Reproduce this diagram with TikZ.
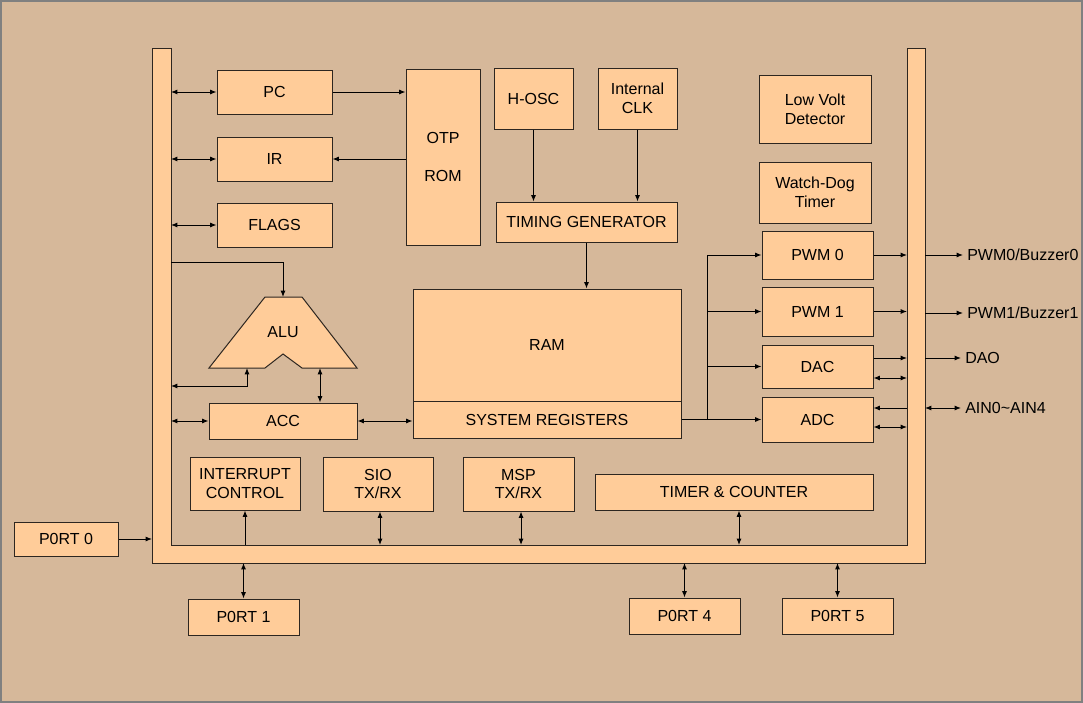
\documentclass[tikz,border=0pt]{standalone}
\usepackage{fontspec}
\setmainfont{Liberation Sans}
\usetikzlibrary{arrows.meta}
\definecolor{chipbg}{RGB}{214,184,154}
\definecolor{blockfill}{RGB}{255,204,153}
\definecolor{blockline}{RGB}{45,38,32}
\tikzset{
  shp/.style={draw=blockline, fill=blockfill, line width=0.75pt},
  blk/.style={shp, inner sep=0pt, align=center, font=\fontsize{12}{14}\selectfont},
  sz/.style 2 args={minimum width=#1*0.75pt, minimum height=#2*0.75pt},
  lbl/.style={inner sep=3pt, anchor=west, font=\fontsize{12}{14}\selectfont},
}
\begin{document}
\begin{tikzpicture}[x=0.75pt, y=-0.75pt, >={Latex[length=4.8pt,width=3.8pt]}]
        \useasboundingbox (0,0) rectangle (1083,703);
        \draw[fill=chipbg, draw=gray, line width=1.5pt] (1,1) rectangle (1082,702);

        % bus
        \draw[shp] (152,48) -- (152,563) -- (925,563) -- (925,48) -- (907,48) -- (907,545) -- (171,545) -- (171,48) -- cycle;
        \coordinate (busL) at (171,48);
        \coordinate (busLo) at (152,48);
        \coordinate (busR) at (907,48);
        \coordinate (busRo) at (925,48);
        \coordinate (busB) at (171,545);
        \coordinate (busBo) at (171,563);

        \node[blk, sz={115}{44}] (pc) at (274.5,92) {PC};
        \node[blk, sz={115}{44}] (ir) at (274.5,159) {IR};
        \node[blk, sz={115}{44}] (flags) at (274.5,225) {FLAGS};
        \node[blk, sz={74}{176}] (rom) at (443,157) {OTP\\[14pt]ROM};
        \node[blk, sz={79}{61}] (hosc) at (533.5,98.5) {H-OSC};
        \node[blk, sz={79}{61}] (iclk) at (637.5,98.5) {Internal\\CLK};
        \node[blk, sz={181}{40}] (tgen) at (586.5,222) {TIMING GENERATOR};
        \node[blk, sz={112}{68}] (lvd) at (815,109) {Low Volt\\Detector};
        \node[blk, sz={112}{61}] (wdt) at (815,192.5) {Watch-Dog\\Timer};
        \node[blk, sz={111}{48}] (pwm0) at (817.5,255) {PWM 0};
        \node[blk, sz={111}{49}] (pwm1) at (817.5,311.5) {PWM 1};
        \node[blk, sz={111}{43}] (dac) at (817.5,366.5) {DAC};
        \node[blk, sz={111}{45}] (adc) at (817.5,419.5) {ADC};
        \node[blk, sz={268}{112}] (ram) at (547,345) {RAM};
        \node[blk, sz={268}{37}] (sreg) at (547,419.5) {SYSTEM REGISTERS};
        \node[blk, sz={148}{36}] (acc) at (283,421) {ACC};

        % ALU
        \draw[shp] (265,297) -- (302,297) -- (357,368) -- (302,368) -- (283,354) -- (265,368) -- (209,368) -- cycle;
        \node[font=\fontsize{12}{14}\selectfont] (alu) at (283,332) {ALU};
        \coordinate (aluT) at (283,297);
        \coordinate (aluL) at (247,368);
        \coordinate (aluR) at (320,368);

        \node[blk, sz={110}{53}] (intr) at (245,483.5) {INTERRUPT\\CONTROL};
        \node[blk, sz={110}{54}] (sio) at (378,484) {SIO\\TX/RX};
        \node[blk, sz={111}{54}] (msp) at (518.5,484) {MSP\\TX/RX};
        \node[blk, sz={278}{36}] (tmr) at (734,492) {TIMER \& COUNTER};

        \node[blk, sz={104}{34}] (port0) at (66,539) {P0RT 0};
        \node[blk, sz={111}{36}] (port1) at (243.5,617) {P0RT 1};
        \node[blk, sz={111}{36}] (port4) at (684.5,616) {P0RT 4};
        \node[blk, sz={111}{36}] (port5) at (837.5,616) {P0RT 5};

        \node[lbl] (pwm0out) at (963,255) {PWM0/Buzzer0};
        \node[lbl] (pwm1out) at (963,313) {PWM1/Buzzer1};
        \node[lbl] (dao) at (961,358) {DAO};
        \node[lbl] (ain) at (961,408) {AIN0\char`~AIN4};

        \begin{scope}[line width=0.75pt]
            \draw[<->] (busL |- pc) -- (pc);
            \draw[<->] (busL |- ir) -- (ir);
            \draw[<->] (busL |- flags) -- (flags);
            \draw[->] (pc) -- (rom.west |- pc);
            \draw[->] (rom.west |- ir) -- (ir);
            \draw[->] (busL |- 0,262) -| (aluT);
            \draw[<->] (busL |- 0,386) -| (aluL);
            \draw[<->] (aluR) -- (aluR |- acc.north);
            \draw[<->] (busL |- acc) -- (acc);
            \draw[<->] (acc.east) -- (acc.east -| sreg.west);

            \draw[->] (hosc) -- (hosc |- tgen.north);
            \draw[->] (iclk) -- (iclk |- tgen.north);
            \draw[->] (tgen) -- (tgen |- ram.north);

            \coordinate (br) at (707,419.5);
            \draw[->] (sreg.east) -- (adc.west);
            \draw (br) -- (br |- pwm0);
            \draw[->] (br |- pwm0) -- (pwm0);
            \draw[->] (br |- pwm1) -- (pwm1);
            \draw[->] (br |- dac) -- (dac);

            \draw[->] (pwm0) -- (busR |- pwm0);
            \draw[->] (pwm1) -- (busR |- pwm1);
            \draw[->] (dac.east |- 0,358) -- (busR |- 0,358);
            \draw[<->] (dac.east |- 0,378) -- (busR |- 0,378);
            \draw[->] (busR |- 0,408) -- (adc.east |- 0,408);
            \draw[<->] (busR |- 0,427) -- (adc.east |- 0,427);

            \draw[->] (busRo |- pwm0out) -- (pwm0out.west);
            \draw[->] (busRo |- pwm1out) -- (pwm1out.west);
            \draw[->] (busRo |- dao) -- (dao.west);
            \draw[<->] (busRo |- ain) -- (ain.west);

            \draw[->] (intr.south |- busB) -- (intr);
            \draw[<->] ([xshift=1.5pt]sio.south) -- ([xshift=1.5pt]sio.south |- busB);
            \draw[<->] ([xshift=1.9pt]msp.south) -- ([xshift=1.9pt]msp.south |- busB);
            \draw[<->] ([xshift=3.75pt]tmr.south) -- ([xshift=3.75pt]tmr.south |- busB);

            \draw[->] (port0) -- (busLo |- port0);
            \draw[<->] (port1) -- (port1 |- busBo);
            \draw[<->] (port4) -- (port4 |- busBo);
            \draw[<->] (port5) -- (port5 |- busBo);
        \end{scope}
    \end{tikzpicture}
\end{document}
